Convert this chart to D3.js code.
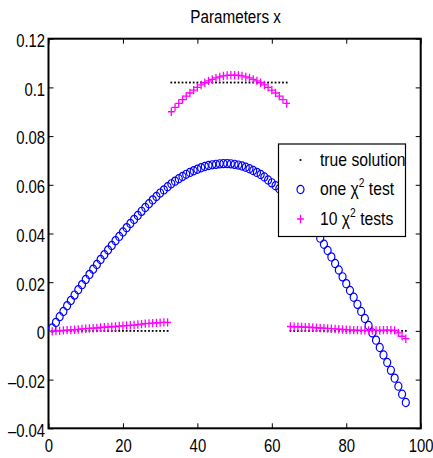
<!DOCTYPE html>
<html>
<head>
<meta charset="utf-8">
<script src="https://cdn.jsdelivr.net/npm/d3@7"></script>
<style>
    html, body { margin: 0; padding: 0; background: #fff; }
    svg { display: block; }
</style>
</head>
<body>
<div id="chart"></div>
<script>
// solution components, index 1..96
const trueSolution = [
    0, 0, 0, 0, 0, 0, 0, 0, 0, 0,
    0, 0, 0, 0, 0, 0, 0, 0, 0, 0,
    0, 0, 0, 0, 0, 0, 0, 0, 0, 0,
    0, 0, 0.102, 0.102, 0.102, 0.102, 0.102, 0.102, 0.102, 0.102,
    0.102, 0.102, 0.102, 0.102, 0.102, 0.102, 0.102, 0.102, 0.102, 0.102,
    0.102, 0.102, 0.102, 0.102, 0.102, 0.102, 0.102, 0.102, 0.102, 0.102,
    0.102, 0.102, 0.102, 0.102, 0, 0, 0, 0, 0, 0,
    0, 0, 0, 0, 0, 0, 0, 0, 0, 0,
    0, 0, 0, 0, 0, 0, 0, 0, 0, 0,
    0, 0, 0, 0, 0, 0
];

const oneChi2 = [
    0.0012, 0.0035, 0.0058, 0.0080, 0.0103, 0.0125, 0.0147, 0.0169, 0.0190, 0.0211,
    0.0232, 0.0253, 0.0273, 0.0293, 0.0313, 0.0332, 0.0351, 0.0370, 0.0388, 0.0406,
    0.0424, 0.0441, 0.0458, 0.0474, 0.0491, 0.0507, 0.0522, 0.0538, 0.0552, 0.0566,
    0.0579, 0.0592, 0.0604, 0.0615, 0.0625, 0.0634, 0.0643, 0.0651, 0.0658, 0.0664,
    0.0670, 0.0675, 0.0679, 0.0682, 0.0684, 0.0686, 0.0687, 0.0687, 0.0686, 0.0684,
    0.0681, 0.0677, 0.0672, 0.0666, 0.0659, 0.0651, 0.0642, 0.0632, 0.0620, 0.0608,
    0.0596, 0.0584, 0.0571, 0.0557, 0.0542, 0.0526, 0.0509, 0.0491, 0.0471, 0.0450,
    0.0428, 0.0405, 0.0381, 0.0356, 0.0330, 0.0304, 0.0277, 0.0250, 0.0222, 0.0194,
    0.0166, 0.0138, 0.0109, 0.0080, 0.0051, 0.0022, -0.0008, -0.0038, -0.0068, -0.0099,
    -0.0130, -0.0162, -0.0194, -0.0227, -0.0260, -0.0294
];

const tenChi2 = [
    -0.0002, -0.0001, 0.0000, 0.0002, 0.0003, 0.0004, 0.0005, 0.0006, 0.0008, 0.0009,
    0.0010, 0.0011, 0.0012, 0.0014, 0.0015, 0.0016, 0.0017, 0.0018, 0.0020, 0.0021,
    0.0022, 0.0023, 0.0024, 0.0026, 0.0028, 0.0030, 0.0031, 0.0032, 0.0033, 0.0034,
    0.0035, 0.0035, 0.0900, 0.0918, 0.0934, 0.0950, 0.0964, 0.0977, 0.0989, 0.1000,
    0.1010, 0.1019, 0.1027, 0.1033, 0.1039, 0.1043, 0.1047, 0.1049, 0.1050, 0.1050,
    0.1049, 0.1047, 0.1043, 0.1039, 0.1033, 0.1027, 0.1019, 0.1010, 0.1000, 0.0989,
    0.0977, 0.0964, 0.0950, 0.0934, 0.0018, 0.0017, 0.0017, 0.0016, 0.0015, 0.0015,
    0.0014, 0.0013, 0.0012, 0.0011, 0.0010, 0.0009, 0.0008, 0.0007, 0.0006, 0.0005,
    0.0004, 0.0003, 0.0003, 0.0002, 0.0002, 0.0002, 0.0002, 0.0002, 0.0002, 0.0003,
    0.0003, 0.0003, 0.0002, -0.0008, -0.0022, -0.0032
];

const xTicks = [0, 20, 40, 60, 80, 100];
const yTicks = [-0.04, -0.02, 0, 0.02, 0.04, 0.06, 0.08, 0.1, 0.12];
const yTickLabels = ['\u20130.04', '\u20130.02', '0', '0.02', '0.04', '0.06', '0.08', '0.1', '0.12'];

const legendNames = ['true solution', 'one', '10'];
const legendTails = ['', ' test', ' tests'];

class Chart {
    constructor() {
        const attrs = {
            svgWidth: 433,
            svgHeight: 458,
            marginTop: 38.7,
            marginRight: 12.3,
            marginBottom: 29.7,
            marginLeft: 48.5,
            container: '#chart',
            fontFamily: '"Liberation Sans", Arial, Helvetica, sans-serif',
            squeeze: 0.85
        };

        this.getState = () => attrs;
        this.setState = (d) => Object.assign(attrs, d);
    }

    render() {
        this.calculateProperties();
        this.drawSvgAndWrappers();
        this.drawAxes();
        this.drawSeries();
        this.drawLegend();
        return this;
    }

    calculateProperties() {
        const { svgWidth, svgHeight, marginTop, marginRight, marginBottom, marginLeft } = this.getState();

        const x = d3.scaleLinear()
            .domain([0, 100])
            .range([marginLeft, svgWidth - marginRight]);

        const y = d3.scaleLinear()
            .domain([-0.04, 0.12])
            .range([svgHeight - marginBottom, marginTop]);

        this.setState({ x, y });
    }

    drawSvgAndWrappers() {
        const { svgWidth, svgHeight, container, fontFamily, x } = this.getState();

        const svg = d3.select(container).append('svg')
            .attr('width', svgWidth)
            .attr('height', svgHeight)
            .style('font-family', fontFamily);

        svg.append('rect')
            .attr('width', svgWidth)
            .attr('height', svgHeight)
            .attr('fill', '#fff');

        svg.append('text')
            .attr('transform', `translate(${(x.range()[0] + x.range()[1]) / 2 + 1},23) scale(0.87,1)`)
            .attr('text-anchor', 'middle')
            .attr('font-size', 17.5)
            .attr('fill', '#000')
            .text('Parameters x');

        const chart = svg.append('g').attr('class', 'chart');

        this.setState({ svg, chart });
    }

    drawAxes() {
        const { chart, x, y, squeeze } = this.getState();
        const [x0, x1] = x.range();
        const [y0, y1] = y.range();

        const styleText = (g, dy) => {
            g.select('.domain').remove();
            g.selectAll('.tick line').attr('stroke', '#000').attr('stroke-width', 1);
            g.selectAll('text')
                .attr('fill', '#000')
                .attr('font-size', 17.5)
                .attr('dy', dy)
                .attr('transform', `scale(${squeeze},1)`);
        };

        chart.append('g')
            .attr('transform', `translate(0,${y0})`)
            .call(d3.axisBottom(x).tickValues(xTicks).tickSizeInner(-5).tickSizeOuter(0).tickPadding(11.5))
            .call(g => styleText(g, '0.71em'));

        chart.append('g')
            .attr('transform', `translate(${x0},0)`)
            .call(d3.axisLeft(y).tickValues(yTicks).tickSizeInner(-5).tickSizeOuter(0).tickPadding(4)
                .tickFormat((d, i) => yTickLabels[i]))
            .call(g => styleText(g, '0.45em'));

        chart.append('g')
            .attr('transform', `translate(0,${y1})`)
            .call(d3.axisTop(x).tickValues(xTicks).tickSizeInner(-5).tickSizeOuter(0).tickFormat(''))
            .call(g => styleText(g, 0));

        chart.append('g')
            .attr('transform', `translate(${x1},0)`)
            .call(d3.axisRight(y).tickValues(yTicks).tickSizeInner(-5).tickSizeOuter(0).tickFormat(''))
            .call(g => styleText(g, 0));

        chart.append('rect')
            .attr('x', x0)
            .attr('y', y1)
            .attr('width', x1 - x0)
            .attr('height', y0 - y1)
            .attr('fill', 'none')
            .attr('stroke', '#000')
            .attr('stroke-width', 2);
    }

    dot(sel) {
        sel.append('rect')
            .attr('x', -0.9).attr('y', -0.9)
            .attr('width', 1.8).attr('height', 1.8)
            .attr('fill', '#000');
    }

    ring(sel) {
        sel.append('ellipse')
            .attr('rx', 3.5).attr('ry', 4.1)
            .attr('fill', 'none')
            .attr('stroke', '#0000ff')
            .attr('stroke-width', 1.2);
    }

    plus(sel) {
        sel.append('path')
            .attr('d', 'M-3.4,0H3.4M0,-4.2V4.2')
            .attr('fill', 'none')
            .attr('stroke', '#ff00ff')
            .attr('stroke-width', 1.3);
    }

    drawSeries() {
        const { chart, x, y } = this.getState();
        const series = [
            { values: oneChi2, marker: this.ring },
            { values: trueSolution, marker: this.dot },
            { values: tenChi2, marker: this.plus }
        ];

        series.forEach(s => {
            chart.append('g')
                .selectAll('g')
                .data(s.values)
                .join('g')
                .attr('transform', (d, i) => `translate(${x(i + 1)},${y(d)})`)
                .call(s.marker);
        });
    }

    drawLegend() {
        const { chart, squeeze } = this.getState();
        const markers = [this.dot, this.ring, this.plus];

        const legend = chart.append('g').attr('transform', 'translate(278.5,144)');

        legend.append('rect')
            .attr('width', 127)
            .attr('height', 92.5)
            .attr('fill', '#fff')
            .attr('stroke', '#000')
            .attr('stroke-width', 1.2);

        legendNames.forEach((name, i) => {
            const row = legend.append('g').attr('transform', `translate(0,${16 + i * 29.5})`);
            row.append('g').attr('transform', 'translate(22,0)').call(markers[i]);

            const t = row.append('text')
                .attr('transform', `translate(41.5,5.5) scale(${squeeze},1)`)
                .attr('font-size', 18.5)
                .attr('fill', '#000');
            t.append('tspan').text(name);
            if (i > 0) {
                t.append('tspan').text(' \u03c7');
                t.append('tspan').attr('font-size', 12).attr('dy', -8).text('2');
                t.append('tspan').attr('dy', 8).text(legendTails[i]);
            }
        });
    }
}

new Chart().render();
</script>
</body>
</html>
